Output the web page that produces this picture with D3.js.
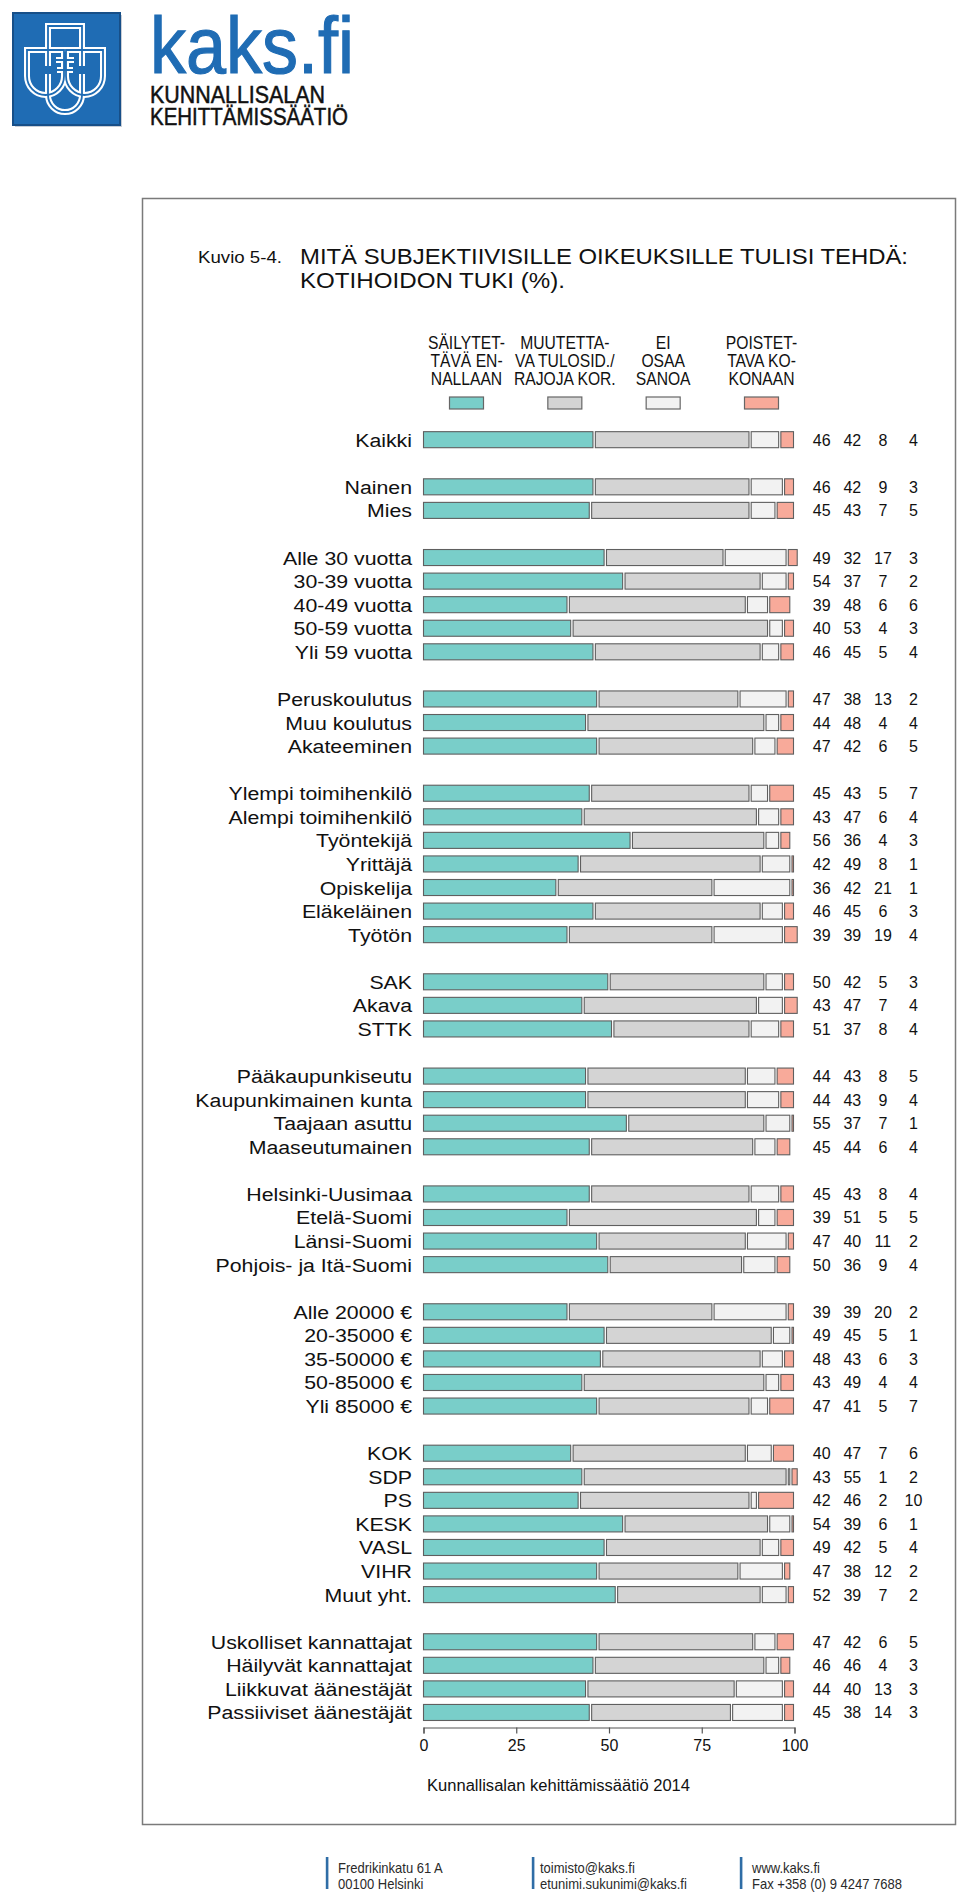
<!DOCTYPE html>
<html><head><meta charset="utf-8">
<script src="https://cdn.jsdelivr.net/npm/d3@7/dist/d3.min.js"></script>
<style>html,body{margin:0;padding:0;background:#fff;} svg{display:block;font-family:"Liberation Sans",Arial,sans-serif;}</style>
</head><body>
<svg id="c" width="960" height="1902"></svg>
<script>
// ---------- DATA ----------
const groups = [
  ["Kaikki"],
  ["Nainen","Mies"],
  ["Alle 30 vuotta","30-39 vuotta","40-49 vuotta","50-59 vuotta","Yli 59 vuotta"],
  ["Peruskoulutus","Muu koulutus","Akateeminen"],
  ["Ylempi toimihenkilö","Alempi toimihenkilö","Työntekijä","Yrittäjä","Opiskelija","Eläkeläinen","Työtön"],
  ["SAK","Akava","STTK"],
  ["Pääkaupunkiseutu","Kaupunkimainen kunta","Taajaan asuttu","Maaseutumainen"],
  ["Helsinki-Uusimaa","Etelä-Suomi","Länsi-Suomi","Pohjois- ja Itä-Suomi"],
  ["Alle 20000 €","20-35000 €","35-50000 €","50-85000 €","Yli 85000 €"],
  ["KOK","SDP","PS","KESK","VASL","VIHR","Muut yht."],
  ["Uskolliset kannattajat","Häilyvät kannattajat","Liikkuvat äänestäjät","Passiiviset äänestäjät"]
];
const sailytettava = [46,46,45,49,54,39,40,46,47,44,47,45,43,56,42,36,46,39,50,43,51,44,44,55,45,45,39,47,50,39,49,48,43,47,40,43,42,54,49,47,52,47,46,44,45];
const muutettava  = [42,42,43,32,37,48,53,45,38,48,42,43,47,36,49,42,45,39,42,47,37,43,43,37,44,43,51,40,36,39,45,43,49,41,47,55,46,39,42,38,39,42,46,40,38];
const eiOsaa      = [8,9,7,17,7,6,4,5,13,4,6,5,6,4,8,21,6,19,5,7,8,8,9,7,6,8,5,11,9,20,5,6,4,5,7,1,2,6,5,12,7,6,4,13,14];
const poistettava = [4,3,5,3,2,6,3,4,2,4,5,7,4,3,1,1,3,4,3,4,4,5,4,1,4,4,5,2,4,2,1,3,4,7,6,2,10,1,4,2,2,5,3,3,3];
const seriesNames = [
  ["SÄILYTET-","TÄVÄ EN-","NALLAAN"],
  ["MUUTETTA-","VA TULOSID./","RAJOJA KOR."],
  ["EI","OSAA","SANOA"],
  ["POISTET-","TAVA KO-","KONAAN"]
];
const seriesColors = ["#79cec9","#d4d4d4","#f2f2f2","#f8aa9a"];
const tickValues = [0,25,50,75,100];
const titleNo = "Kuvio 5-4.";
const titleLines = ["MITÄ SUBJEKTIIVISILLE OIKEUKSILLE TULISI TEHDÄ:","KOTIHOIDON TUKI (%)."];
const sourceText = "Kunnallisalan kehittämissäätiö 2014";
const footerCols = [["Fredrikinkatu 61 A","00100 Helsinki"],["toimisto@kaks.fi","etunimi.sukunimi@kaks.fi"],["www.kaks.fi","Fax +358 (0) 9 4247 7688"]];

// ---------- BUILD ----------
const series = [sailytettava, muutettava, eiOsaa, poistettava];
const categories = groups.flat();
const slots = [];
groups.forEach((g,gi)=>{ if(gi>0) slots.push("__gap"+gi); g.forEach(c=>slots.push(c)); });

const svg = d3.select("#c");

// ---- logo ----
const logo = svg.append("g");
logo.append("rect").attr("x",15).attr("y",15).attr("width",107).attr("height",112).attr("fill","#c9ced6");
logo.append("rect").attr("x",13).attr("y",13).attr("width",107).attr("height",112).attr("fill","#1f6cb4").attr("stroke","#174f88").attr("stroke-width",2);
const emPaths = [
  "M48,66 V26 H82 V66",
  "M27,50 H64 V76 A18.5,19 0 0 1 27,76 Z",
  "M66,50 H103 V76 A18.5,19 0 0 1 66,76 Z",
  "M48,74 V95 A17,17 0 0 0 82,95 V74",
  "M56,60 H74 M65,52 V70 M57,70 H73"
];
const em1 = logo.append("g").attr("fill","none").attr("stroke","#fff").attr("stroke-width",6).attr("stroke-linejoin","miter");
emPaths.forEach(p=>em1.append("path").attr("d",p));
const em2 = logo.append("g").attr("fill","none").attr("stroke","#1f6cb4").attr("stroke-width",1.8).attr("stroke-linejoin","miter");
emPaths.forEach(p=>em2.append("path").attr("d",p));
logo.append("text").attr("x",150).attr("y",73).attr("fill","#1f6cb4").attr("stroke","#1f6cb4").attr("stroke-width",1.2)
  .style("font-size","80px")
  .attr("textLength",204).attr("lengthAdjust","spacingAndGlyphs").text("kaks.fi");
logo.append("text").attr("x",150).attr("y",103).attr("fill","#111").attr("stroke","#111").attr("stroke-width",0.5)
  .style("font-size","24px")
  .attr("textLength",175).attr("lengthAdjust","spacingAndGlyphs").text("KUNNALLISALAN");
logo.append("text").attr("x",150).attr("y",124.5).attr("fill","#111").attr("stroke","#111").attr("stroke-width",0.5)
  .style("font-size","24px")
  .attr("textLength",198).attr("lengthAdjust","spacingAndGlyphs").text("KEHITTÄMISSÄÄTIÖ");

// ---- frame ----
svg.append("rect").attr("x",142.5).attr("y",198.5).attr("width",813).attr("height",1626)
  .attr("fill","none").attr("stroke","#7a7a7a").attr("stroke-width",1.5);

// ---- title ----
svg.append("text").attr("x",198).attr("y",263).style("font-size","17px").attr("fill","#111")
  .attr("textLength",84).attr("lengthAdjust","spacingAndGlyphs").text(titleNo);
const tLens = [608,265];
titleLines.forEach((t,i)=>{
  svg.append("text").attr("x",300).attr("y",264+i*24).style("font-size","21.5px").attr("fill","#111")
    .attr("textLength",tLens[i]).attr("lengthAdjust","spacingAndGlyphs").text(t);
});

// ---- legend ----
const legX = d3.scalePoint().domain(d3.range(4)).range([466.5,761.5]);
seriesNames.forEach((lines,i)=>{
  lines.forEach((ln,j)=>{
    svg.append("text").attr("transform",`translate(${legX(i)},${348.5+j*18.3}) scale(0.87,1)`)
      .attr("text-anchor","middle").style("font-size","18px").attr("fill","#111").text(ln);
  });
  svg.append("rect").attr("x",legX(i)-17).attr("y",397).attr("width",34).attr("height",12)
    .attr("fill",seriesColors[i]).attr("stroke","#666").attr("stroke-width",1.2);
});

// ---- scales ----
const x = d3.scaleLinear().domain([0,100]).range([423.5,794.5]);
const y = d3.scaleBand().domain(slots).range([427.9, 427.9+55*23.57]).paddingInner(0.32).paddingOuter(0.16);

// ---- bars ----
const rows = categories.map((c,i)=>{
  let cum=0;
  const segs = series.map((s,k)=>{ const o={k,start:cum,v:s[i]}; cum+=s[i]; return o; });
  return {c,i,segs};
});
const rowG = svg.append("g").selectAll("g").data(rows).join("g");
rowG.selectAll("rect").data(d=>d.segs.map(s=>({...s,c:d.c}))).join("rect")
  .attr("x",d=>x(d.start)+(d.k>0?1.2:0))
  .attr("y",d=>y(d.c))
  .attr("width",d=>Math.max(0.6, x(d.start+d.v)-x(d.start)-(d.k>0?2.2:1.2)))
  .attr("height",y.bandwidth())
  .attr("fill",d=>seriesColors[d.k]).attr("stroke","#5f5f5f").attr("stroke-width",1.1);

// ---- row labels ----
rowG.append("text")
  .attr("transform",d=>`translate(412,${y(d.c)+y.bandwidth()/2+7}) scale(1.11,1)`)
  .attr("text-anchor","end").style("font-size","19.2px").attr("fill","#111").text(d=>d.c);

// ---- value columns ----
const colX = d3.scalePoint().domain(d3.range(4)).range([821.7,913.5]);
rowG.selectAll("text.v").data(d=>d.segs.map(s=>({...s,c:d.c}))).join("text").attr("class","v")
  .attr("x",d=>colX(d.k)).attr("y",d=>y(d.c)+y.bandwidth()/2+6)
  .attr("text-anchor","middle").style("font-size","16px").attr("fill","#111").text(d=>d.v);

// ---- axis ----
const axY = 1727.5;
const ax = svg.append("g").attr("transform",`translate(0,${axY})`)
  .call(d3.axisBottom(x).tickValues(tickValues).tickSize(6).tickSizeOuter(6).tickPadding(6).tickFormat(d3.format("d")));
ax.select(".domain").attr("stroke","#555").attr("stroke-width",1.2);
ax.selectAll(".tick line").attr("stroke","#555").attr("stroke-width",1.2);
ax.selectAll(".tick text").style("font-size","16px").style("font-family","'Liberation Sans',Arial,sans-serif").attr("fill","#111");

// ---- source ----
svg.append("text").attr("x",427).attr("y",1791).style("font-size","16px").attr("fill","#111")
  .attr("textLength",263).attr("lengthAdjust","spacingAndGlyphs").text(sourceText);

// ---- footer ----
const footX = [[327,338],[533,540],[741,752]];
footerCols.forEach((col,i)=>{
  svg.append("rect").attr("x",footX[i][0]-1.2).attr("y",1857).attr("width",2.6).attr("height",32).attr("fill","#2f6da6");
  col.forEach((ln,j)=>{
    svg.append("text").attr("transform",`translate(${footX[i][1]},${1872.5+j*16}) scale(0.93,1)`)
      .style("font-size","14px").attr("fill","#2a2a2a").text(ln);
  });
});
</script>
</body></html>
